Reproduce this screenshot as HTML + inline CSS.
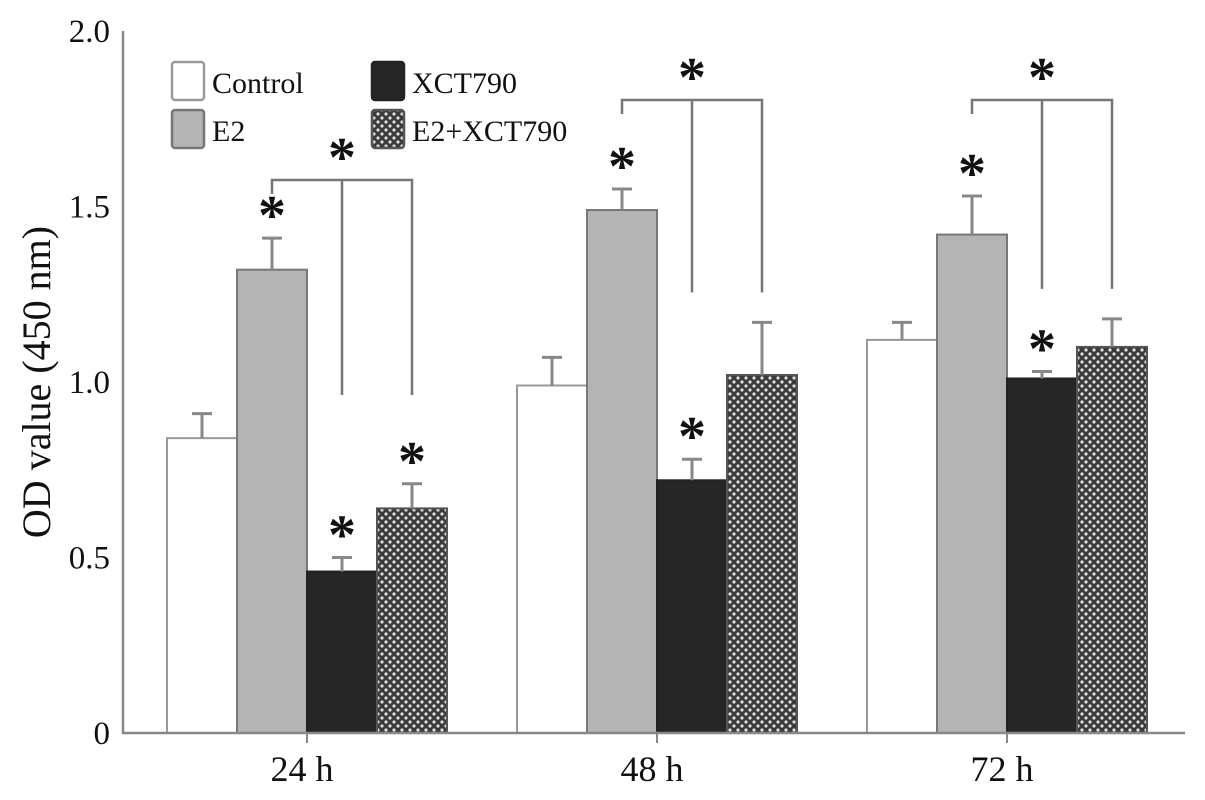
<!DOCTYPE html>
<html><head><meta charset="utf-8"><style>
body{margin:0;background:#fff}
svg text{font-family:"Liberation Serif",serif;fill:#111}
</style></head><body>
<svg width="1205" height="795" viewBox="0 0 1205 795">
<defs>
<pattern id="chk" width="8" height="8" patternUnits="userSpaceOnUse">
<rect width="8" height="8" fill="#3a3a3a"/>
<circle cx="2" cy="2" r="1.6" fill="#ddd"/><circle cx="6" cy="6" r="1.6" fill="#ddd"/>
</pattern>
</defs>
<g id="bars"></g>
<g id="axes"></g>
<g id="legend"></g>
</svg>
<script>
const categories=["24 h","48 h","72 h"];
const seriesNames=["Control","E2","XCT790","E2+XCT790"];
const control=[0.84,0.99,1.12];
const e2=[1.32,1.49,1.42];
const xct=[0.46,0.72,1.01];
const e2xct=[0.64,1.02,1.10];
const controlErr=[0.07,0.08,0.05];
const e2Err=[0.09,0.06,0.11];
const xctErr=[0.04,0.06,0.02];
const e2xctErr=[0.07,0.15,0.08];
const yTicks=[0,0.5,1.0,1.5,2.0];
const yTickLabels=["0","0.5","1.0","1.5","2.0"];
const starFlags=[[0,1,1,1],[0,1,1,0],[0,1,1,0]];

const NS="http://www.w3.org/2000/svg";
const y0=733,y1=31;
function yS(v){return y0-(v/2)*(y0-y1);}
const barW=70;
function xS(ci,si){return 167+ci*350+si*barW;}
function mk(tag,attrs,parent){const e=document.createElementNS(NS,tag);for(const k in attrs)e.setAttribute(k,attrs[k]);parent.appendChild(e);return e;}
const gb=document.getElementById('bars'),ga=document.getElementById('axes'),gl=document.getElementById('legend');
const fills=["#fff","#b4b4b4","#262626","url(#chk)"];
const strokes=["#999","#777","#222","#555"];
const vals=[control,e2,xct,e2xct],errs=[controlErr,e2Err,xctErr,e2xctErr];
function star(x,y){const t=mk('text',{x:x,y:y+26,'font-size':56,'font-weight':'bold','text-anchor':'middle','font-family':'Liberation Sans'},gb);t.textContent='*';

}
categories.forEach((c,ci)=>{
 vals.forEach((arr,si)=>{
  const x=xS(ci,si),v=arr[ci],top=yS(v);
  const r=mk('rect',{x:x,y:top,width:barW,height:y0-top,fill:fills[si],stroke:strokes[si],'stroke-width':2},gb);
  
  
  const et=yS(v+errs[si][ci]),cx=x+barW/2;
  const e=mk('path',{d:`M${cx},${top} V${et} M${cx-10},${et} H${cx+10}`,stroke:'#888','stroke-width':3,fill:'none'},gb);
  
  
  if(starFlags[ci][si]) star(cx,et-30);
 });
 const xl=xS(ci,1)+barW/2,xm=xS(ci,2)+barW/2,xr=xS(ci,3)+barW/2;
 const topY=ci==0?180:100;
 const bl=yS(Math.max(xct[ci]+xctErr[ci],e2xct[ci]+e2xctErr[ci]))-(ci==0?55:30);
 const br=mk('path',{d:`M${xl},${topY+14} V${topY} H${xr} V${ci==0?395:bl} M${xm},${topY} V${ci==0?395:bl}`,stroke:'#777','stroke-width':2.5,fill:'none'},gb);
 
 
 star(xm,topY-30);
 const tl=mk('text',{x:xS(ci,2)-5,y:781,'font-size':36,'text-anchor':'middle'},ga);tl.textContent=c;
 
 
 const tk=mk('line',{x1:xS(ci,2),x2:xS(ci,2),y1:y0,y2:y0+10,stroke:'#888','stroke-width':2},ga);
 
 
});
const ax=mk('path',{d:`M123,${y1} V${y0} H1185`,stroke:'#888','stroke-width':2.5,fill:'none'},ga);


yTicks.forEach((v,i)=>{
 const t=mk('text',{x:110,y:yS(v)+11,'font-size':33,'text-anchor':'end'},ga);t.textContent=yTickLabels[i];
 
 
});
const yt=mk('text',{x:0,y:0,'font-size':40,'text-anchor':'middle',transform:'translate(50,382) rotate(-90)'},ga);yt.textContent='OD value (450 nm)';


const lpos=[[172,62],[172,110],[372,62],[372,110]];
seriesNames.forEach((n,i)=>{
 const r=mk('rect',{x:lpos[i][0],y:lpos[i][1],width:32,height:38,fill:fills[i],stroke:strokes[i],'stroke-width':2.5,rx:3},gl);
 
 
 const t=mk('text',{x:lpos[i][0]+40,y:lpos[i][1]+31,'font-size':30},gl);t.textContent=n;
 
 
});
</script>
</body></html>
